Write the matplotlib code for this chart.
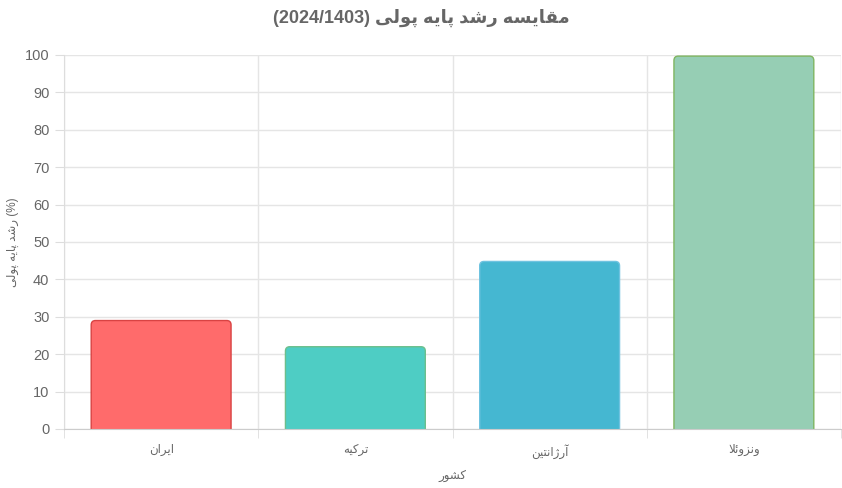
#!/usr/bin/env python3

import matplotlib
matplotlib.use("Agg")
import matplotlib.pyplot as plt
from matplotlib.patches import FancyBboxPatch

# داده‌ها
countries = ["ایران", "ترکیه", "آرژانتین", "ونزوئلا"]
growth = [29, 22, 44.8, 99.7]
bar_colors = ["#ff6b6b", "#4ecdc4", "#45b7d1", "#96ceb4"]
edge_colors = ["#d94343", "#6cbf8c", "#6fc3e0", "#7fb561"]
title_main = "مقایسه رشد پایه پولی"
title_year = "(2024/1403)"
ylabel_text = "رشد پایه پولی"
xlabel_text = "کشور"
yticks = list(range(0, 101, 10))

# جدول شکل‌های حروف: (منفرد، پایانی، آغازی، میانی)
FORMS = {
    "ا": ("\uFE8D", "\uFE8E", None, None),
    "آ": ("\uFE81", "\uFE82", None, None),
    "پ": ("\uFB56", "\uFB57", "\uFB58", "\uFB59"),
    "ت": ("\uFE95", "\uFE96", "\uFE97", "\uFE98"),
    "ر": ("\uFEAD", "\uFEAE", None, None),
    "ز": ("\uFEAF", "\uFEB0", None, None),
    "ژ": ("\uFB8A", "\uFB8B", None, None),
    "س": ("\uFEB1", "\uFEB2", "\uFEB3", "\uFEB4"),
    "ش": ("\uFEB5", "\uFEB6", "\uFEB7", "\uFEB8"),
    "د": ("\uFEA9", "\uFEAA", None, None),
    "ق": ("\uFED5", "\uFED6", "\uFED7", "\uFED8"),
    "ک": ("\uFB8E", "\uFB8F", "\uFB90", "\uFB91"),
    "ل": ("\uFEDD", "\uFEDE", "\uFEDF", "\uFEE0"),
    "م": ("\uFEE1", "\uFEE2", "\uFEE3", "\uFEE4"),
    "ن": ("\uFEE5", "\uFEE6", "\uFEE7", "\uFEE8"),
    "ه": ("\uFEE9", "\uFEEA", "\uFEEB", "\uFEEC"),
    "و": ("\uFEED", "\uFEEE", None, None),
    "ی": ("\uFBFC", "\uFBFD", "\uFBFE", "\uFBFF"),
    "ئ": ("\uFE89", "\uFE8A", "\uFE8B", "\uFE8C"),
}
LAM_ALEF = {"ا": ("\uFEFB", "\uFEFC"), "آ": ("\uFEF5", "\uFEF6")}


def shape(text):
    # چسباندن حروف و برگرداندن ترتیب برای نمایش چپ به راست
    chars = list(text)
    out = []
    i = 0
    while i < len(chars):
        c = chars[i]
        if c not in FORMS:
            out.append(c)
            i += 1
            continue
        prev = chars[i - 1] if i > 0 else None
        join_prev = prev in FORMS and FORMS[prev][2] is not None
        nxt = chars[i + 1] if i + 1 < len(chars) else None
        if c == "ل" and nxt in LAM_ALEF:
            out.append(LAM_ALEF[nxt][1 if join_prev else 0])
            i += 2
            continue
        join_next = FORMS[c][2] is not None and nxt in FORMS
        iso, fin, ini, med = FORMS[c]
        if join_prev and join_next:
            out.append(med)
        elif join_prev:
            out.append(fin)
        elif join_next:
            out.append(ini)
        else:
            out.append(iso)
        i += 1
    return "".join(reversed(out))


def main():
    plt.rcParams["font.family"] = ["Liberation Sans", "DejaVu Sans"]

    fig = plt.figure(figsize=(8.42, 4.88), dpi=100)
    ax = fig.add_axes([64 / 842, 1 - 429 / 488, 777 / 842, 374 / 488])

    x = range(len(countries))
    bars = ax.bar(x, growth, width=0.72, color=bar_colors, edgecolor=edge_colors,
                  linewidth=1, zorder=3)

    # گوشه‌های گرد بالای ستون‌ها (پایین ستون زیر محور پنهان می‌شود)
    for rect in bars:
        bx, bw, bh = rect.get_x(), rect.get_width(), rect.get_height()
        patch = FancyBboxPatch((bx, -3), bw, bh + 3,
                               boxstyle="round,pad=0,rounding_size=0.022",
                               mutation_aspect=53,
                               facecolor=rect.get_facecolor(),
                               edgecolor=rect.get_edgecolor(),
                               linewidth=1, zorder=3)
        rect.set_visible(False)
        ax.add_patch(patch)

    ax.set_xlim(-0.5, 3.5)
    ax.set_ylim(0, 100)
    ax.set_yticks(yticks)
    ax.set_xticks(list(x))
    ax.set_xticklabels([shape(c) for c in countries], fontsize=8.5, color="#666666")
    ax.set_xticks([-0.5, 0.5, 1.5, 2.5, 3.5], minor=True)

    ax.tick_params(axis="x", which="major", length=0, pad=11)
    ax.tick_params(axis="x", which="minor", length=6.5, color="#dddddd")
    ax.tick_params(axis="y", length=6.5, color="#dddddd", labelsize=10.5,
                   labelcolor="#666666", pad=4)

    ax.grid(True, axis="y", color="#e5e5e5", linewidth=1, zorder=0)
    ax.grid(True, axis="x", which="minor", color="#e5e5e5", linewidth=1, zorder=0)

    for side in ["top", "right"]:
        ax.spines[side].set_visible(False)
    ax.spines["left"].set_color("#dddddd")
    ax.spines["bottom"].set_color("#cccccc")
    ax.spines["bottom"].set_zorder(4)

    ax.set_xlabel(shape(xlabel_text), fontsize=8.5, color="#666666", labelpad=8)
    ax.set_ylabel(shape(ylabel_text) + " (%)", fontsize=8.5, color="#666666",
                  labelpad=4)

    fig.suptitle(title_year + " " + shape(title_main), fontsize=13,
                 fontweight="bold", color="#666666", y=1 - 18 / 488, va="center")

    plt.savefig("out.png", dpi=100)


if __name__ == "__main__":
    main()
